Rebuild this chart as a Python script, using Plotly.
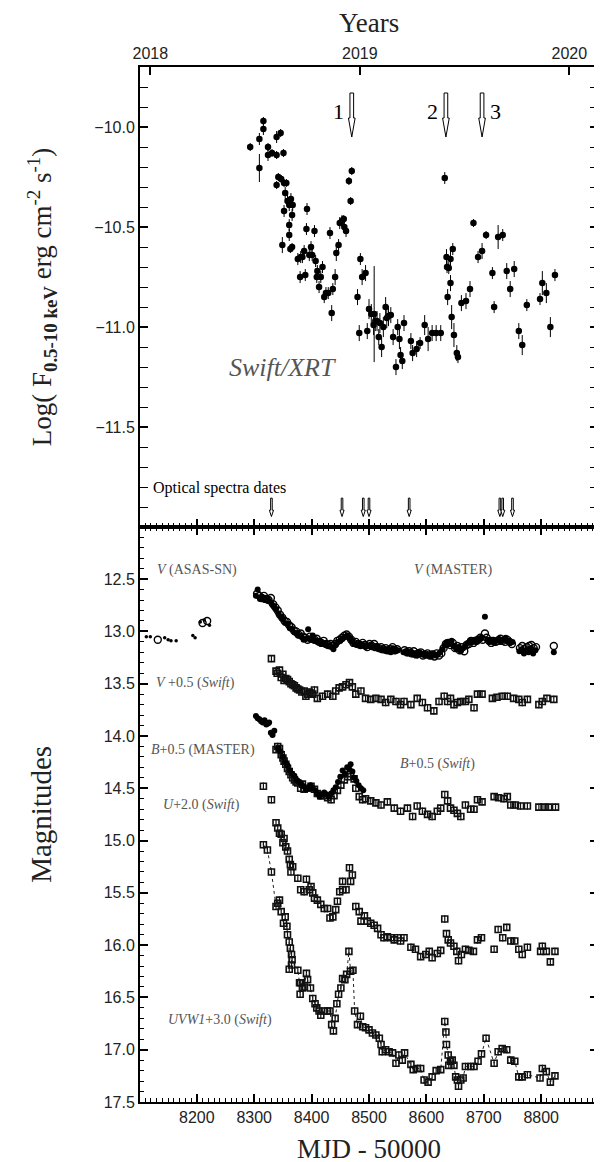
import plotly.graph_objects as go

# ---------------- TOP PANEL: Swift/XRT flux ----------------
xrt_mjd = [8293, 8309, 8309, 8316, 8316, 8324, 8324, 8331, 8339, 8339, 8339, 8342, 8346, 8347, 8349,
           8351, 8352, 8352, 8354, 8356, 8358, 8361, 8361, 8361, 8363, 8364, 8366, 8366, 8367, 8376,
           8380, 8381, 8384, 8387, 8389, 8391, 8392, 8396, 8399, 8401, 8405, 8407, 8409, 8410, 8413,
           8416, 8419, 8422, 8425, 8429, 8432, 8435, 8437, 8441, 8443, 8447, 8449, 8453, 8456, 8457,
           8460, 8465, 8468, 8470, 8480, 8483, 8485, 8488, 8494, 8497, 8500, 8504, 8508, 8509, 8511,
           8514, 8517, 8519, 8522, 8525, 8529, 8531, 8534, 8538, 8542, 8547, 8550, 8553, 8555, 8558,
           8561, 8573, 8576, 8583, 8589, 8597, 8603, 8610, 8617, 8625, 8632, 8635, 8636, 8637, 8639,
           8642, 8642, 8644, 8646, 8648, 8653, 8655, 8661, 8669, 8676, 8682, 8690, 8697, 8704, 8715,
           8718, 8725, 8733, 8740, 8746, 8753, 8761, 8767, 8775, 8798, 8802, 8809, 8816, 8824]
xrt_logf = [-10.10, -10.06, -10.205, -9.97, -10.01, -10.10, -10.14, -10.13, -10.05, -10.14, -10.29, -10.25,
            -10.03, -10.26, -10.59, -10.13, -10.28, -10.42, -10.33, -10.28, -10.37, -10.39, -10.49, -10.54,
            -10.61, -10.36, -10.44, -10.60, -10.39, -10.66, -10.75, -10.65, -10.65, -10.62, -10.74, -10.51,
            -10.41, -10.64, -10.60, -10.64, -10.52, -10.67, -10.75, -10.72, -10.80, -10.75, -10.70, -10.85,
            -10.83, -10.83, -10.53, -10.93, -10.81, -10.75, -10.63, -10.59, -10.48, -10.47, -10.46, -10.50,
            -10.52, -10.27, -10.37, -10.22, -10.85, -11.03, -10.66, -10.75, -10.73, -11.02, -10.91, -10.935,
            -10.99, -10.935, -10.97, -10.97, -11.05, -10.98, -11.10, -11.00, -10.90, -10.955, -10.945, -10.94,
            -11.05, -11.20, -11.00, -11.06, -11.14, -11.17, -10.98, -11.07, -11.13, -11.11, -11.08, -10.99,
            -11.06, -11.03, -11.03, -11.03, -10.255, -10.65, -10.70, -10.85, -10.705, -10.66, -10.78, -10.95,
            -10.61, -11.04, -11.13, -11.15, -10.88, -10.87, -10.81, -10.48, -10.65, -10.62, -10.54, -10.73,
            -10.90, -10.55, -10.54, -10.72, -10.81, -10.71, -11.02, -11.09, -10.89, -10.86, -10.78, -10.83,
            -11.00, -10.74]
xrt_err = [0.02, 0.03, 0.07, 0.02, 0.03, 0.02, 0.03, 0.02, 0.03, 0.02, 0.02, 0.02, 0.02, 0.02, 0.04,
           0.02, 0.02, 0.03, 0.03, 0.02, 0.03, 0.03, 0.03, 0.03, 0.02, 0.03, 0.03, 0.02, 0.03, 0.03,
           0.03, 0.03, 0.03, 0.03, 0.03, 0.03, 0.03, 0.03, 0.03, 0.03, 0.03, 0.03, 0.03, 0.03, 0.03,
           0.03, 0.03, 0.03, 0.03, 0.03, 0.03, 0.04, 0.03, 0.04, 0.04, 0.03, 0.03, 0.03, 0.02, 0.03,
           0.03, 0.02, 0.02, 0.02, 0.04, 0.04, 0.03, 0.04, 0.04, 0.04, 0.05, 0.05, 0.05, 0.24, 0.05,
           0.05, 0.04, 0.05, 0.05, 0.05, 0.05, 0.05, 0.05, 0.04, 0.04, 0.04, 0.04, 0.05, 0.04, 0.04,
           0.04, 0.04, 0.04, 0.04, 0.03, 0.05, 0.06, 0.04, 0.04, 0.04, 0.03, 0.04, 0.03, 0.04, 0.03,
           0.04, 0.04, 0.06, 0.03, 0.06, 0.04, 0.03, 0.04, 0.04, 0.04, 0.02, 0.03, 0.04, 0.02, 0.03,
           0.03, 0.06, 0.03, 0.04, 0.04, 0.04, 0.04, 0.05, 0.03, 0.03, 0.06, 0.05, 0.05, 0.03]

xray_arrow_mjd = [8470, 8634, 8697]
xray_arrow_labels = ["1", "2", "3"]
xray_label_side = ["left", "left", "right"]
spectra_mjd = [8330, 8453, 8490, 8500, 8570, 8728, 8733, 8750]

year_mjd = [8119, 8484, 8849]
year_labels = ["2018", "2019", "2020"]

# ---------------- BOTTOM PANEL: optical/UV magnitudes ----------------
v_asas_early_mjd = [8112, 8119, 8144, 8150, 8155, 8164, 8193, 8197, 8206, 8213, 8222]
v_asas_early_mag = [13.05, 13.05, 13.06, 13.08, 13.09, 13.09, 13.04, 13.06, 12.91, 12.89, 12.94]
v_asas_mjd = [8132, 8210, 8218,
              8305, 8309, 8313, 8317, 8321, 8325, 8329, 8333, 8337, 8341, 8345, 8349, 8353, 8357, 8361, 8365,
              8369, 8373, 8377, 8381, 8385, 8389, 8393, 8397, 8401, 8405, 8409, 8413, 8417, 8421, 8425, 8429,
              8433, 8437, 8441, 8445, 8449, 8453, 8457, 8461, 8465, 8469, 8473, 8477, 8481, 8485, 8489, 8493,
              8497, 8501, 8505, 8509, 8513, 8517, 8521, 8525, 8529, 8533, 8537, 8541, 8545, 8549, 8562, 8566,
              8570, 8574, 8578, 8582, 8586, 8590, 8594, 8598, 8602, 8606, 8610, 8614, 8618, 8622, 8626, 8630,
              8634, 8638, 8642, 8646, 8650, 8654, 8658, 8662, 8666, 8670, 8674, 8678, 8682, 8686, 8690, 8694,
              8698, 8702, 8705, 8709, 8713, 8717, 8721, 8725, 8729, 8733, 8737, 8741, 8745, 8749, 8763, 8767,
              8771, 8775, 8779, 8783, 8787, 8791, 8822]
v_asas_mag = [13.08, 12.92, 12.90,
              12.64, 12.66, 12.68, 12.66, 12.69, 12.70, 12.68, 12.74, 12.77, 12.80, 12.84, 12.87, 12.90, 12.91,
              12.94, 12.96, 12.99, 13.00, 13.03, 13.02, 13.05, 13.06, 13.08, 13.05, 13.07, 13.08, 13.07, 13.10,
              13.11, 13.09, 13.12, 13.13, 13.12, 13.14, 13.12, 13.09, 13.08, 13.06, 13.04, 13.03, 13.05, 13.08,
              13.11, 13.10, 13.12, 13.13, 13.11, 13.13, 13.15, 13.12, 13.14, 13.12, 13.15, 13.16, 13.15, 13.17,
              13.16, 13.18, 13.17, 13.15, 13.18, 13.17, 13.18, 13.20, 13.19, 13.21, 13.19, 13.22, 13.21, 13.20,
              13.23, 13.22, 13.21, 13.23, 13.22, 13.24, 13.21, 13.23, 13.21, 13.16, 13.12, 13.11, 13.13, 13.11,
              13.16, 13.14, 13.18, 13.15, 13.19, 13.13, 13.12, 13.09, 13.11, 13.09, 13.08, 13.06, 13.08, 13.02,
              13.06, 13.09, 13.11, 13.09, 13.10, 13.09, 13.07, 13.09, 13.10, 13.08, 13.10, 13.12, 13.16, 13.14,
              13.17, 13.15, 13.14, 13.13, 13.16, 13.15, 13.14]
v_master_mjd = [8303, 8306, 8310, 8314, 8318, 8322, 8326, 8330, 8334, 8338, 8342, 8346, 8350, 8354, 8358, 8362,
                8366, 8370, 8374, 8378, 8382, 8386, 8390, 8394, 8398, 8402, 8406, 8410, 8414, 8418, 8422, 8426,
                8430, 8434, 8438, 8442, 8446, 8450, 8454, 8458, 8462, 8466, 8470, 8474, 8478, 8482, 8486, 8490,
                8494, 8498, 8502, 8506, 8510, 8514, 8518, 8522, 8526, 8530, 8534, 8538, 8542, 8546, 8550, 8560,
                8564, 8568, 8572, 8576, 8580, 8584, 8588, 8592, 8596, 8600, 8604, 8608, 8612, 8616, 8620, 8624,
                8628, 8632, 8636, 8640, 8644, 8648, 8652, 8656, 8660, 8664, 8668, 8672, 8676, 8680, 8684, 8688,
                8692, 8696, 8702, 8706, 8710, 8714, 8718, 8722, 8726, 8730, 8734, 8738, 8742, 8746, 8750, 8762,
                8766, 8770, 8774, 8778, 8782, 8786, 8790, 8822]
v_master_mag = [12.66, 12.60, 12.69, 12.67, 12.70, 12.68, 12.71, 12.73, 12.76, 12.79, 12.83, 12.86, 12.88, 12.92,
                12.93, 12.97, 12.98, 13.01, 13.02, 13.04, 13.05, 13.08, 13.07, 12.98, 13.08, 13.04, 13.09, 13.10,
                13.09, 13.12, 13.11, 13.13, 13.14, 13.15, 13.17, 13.13, 13.10, 13.09, 13.07, 13.05, 13.04, 13.06,
                13.09, 13.12, 13.13, 13.12, 13.14, 13.13, 13.15, 13.14, 13.13, 13.15, 13.16, 13.14, 13.17, 13.18,
                13.17, 13.19, 13.18, 13.20, 13.16, 13.19, 13.18, 13.20, 13.19, 13.21, 13.20, 13.22, 13.21, 13.23,
                13.20, 13.22, 13.21, 13.23, 13.22, 13.24, 13.21, 13.23, 13.22, 13.20, 13.17, 13.13, 13.10, 13.12,
                13.09, 13.14, 13.17, 13.15, 13.19, 13.16, 13.14, 13.11, 13.09, 13.10, 13.08, 13.10, 13.07, 13.06,
                12.86, 13.08, 13.10, 13.08, 13.11, 13.09, 13.07, 13.10, 13.08, 13.06, 13.09, 13.11, 13.10, 13.19,
                13.17, 13.21, 13.18, 13.20, 13.16, 13.21, 13.18, 13.20]

v_swift_mjd = [8330, 8338, 8340, 8344, 8347, 8350, 8352, 8355, 8358, 8361, 8364, 8367, 8370, 8373, 8376, 8379,
               8383, 8387, 8390, 8393, 8396, 8399, 8402, 8405, 8410, 8419, 8428, 8437, 8442, 8448, 8454, 8460,
               8466, 8471, 8477, 8486, 8494, 8503, 8512, 8521, 8529, 8538, 8547, 8555, 8561, 8573, 8584, 8593,
               8602, 8613, 8622, 8631, 8637, 8642, 8648, 8654, 8660, 8668, 8674, 8683, 8689, 8697, 8715, 8723,
               8732, 8741, 8752, 8761, 8767, 8776, 8796, 8802, 8810, 8822]
v_swift_mag = [13.26, 13.38, 13.40, 13.37, 13.44, 13.41, 13.47, 13.45, 13.46, 13.48, 13.50, 13.51, 13.52, 13.54,
               13.55, 13.56, 13.58, 13.57, 13.62, 13.60, 13.58, 13.59, 13.60, 13.56, 13.64, 13.62, 13.60, 13.62,
               13.57, 13.54, 13.53, 13.51, 13.49, 13.53, 13.60, 13.57, 13.64, 13.65, 13.64, 13.65, 13.68, 13.65,
               13.67, 13.70, 13.67, 13.70, 13.64, 13.68, 13.73, 13.76, 13.67, 13.62, 13.67, 13.64, 13.70, 13.68,
               13.67, 13.67, 13.65, 13.73, 13.60, 13.60, 13.64, 13.63, 13.62, 13.62, 13.64, 13.65, 13.68, 13.65,
               13.70, 13.67, 13.64, 13.65]

b_master_mjd = [8303, 8306, 8309, 8312, 8315, 8318, 8321, 8324, 8326, 8329, 8332, 8335, 8342, 8346, 8350, 8354,
                8358, 8362, 8366, 8370, 8374, 8378, 8382, 8386, 8390, 8394, 8398, 8402, 8406, 8410, 8414, 8418,
                8422, 8426, 8430, 8434, 8438, 8442, 8446, 8450, 8454, 8458, 8462, 8466, 8468, 8471, 8474, 8478,
                8482, 8486, 8490]
b_master_mag = [13.81, 13.83, 13.84, 13.86, 13.87, 13.85, 13.89, 13.88, 13.87, 13.97, 13.99, 13.95, 14.12, 14.15,
                14.20, 14.25, 14.28, 14.33, 14.36, 14.38, 14.42, 14.44, 14.46, 14.48, 14.51, 14.50, 14.47, 14.50,
                14.52, 14.55, 14.58, 14.56, 14.54, 14.56, 14.58, 14.55, 14.52, 14.49, 14.44, 14.39, 14.33, 14.36,
                14.30, 14.32, 14.27, 14.34, 14.40, 14.43, 14.47, 14.50, 14.52]

b_swift_mjd = [8338, 8341, 8344, 8347, 8350, 8352, 8355, 8358, 8361, 8364, 8367, 8370, 8373, 8376, 8381, 8384,
               8387, 8393, 8399, 8405, 8410, 8416, 8422, 8428, 8434, 8439, 8445, 8451, 8457, 8463, 8468, 8474,
               8477, 8483, 8489, 8494, 8503, 8512, 8521, 8532, 8544, 8555, 8567, 8576, 8584, 8593, 8602, 8610,
               8619, 8625, 8632, 8637, 8642, 8648, 8654, 8660, 8668, 8677, 8683, 8689, 8697, 8718, 8726, 8735,
               8741, 8747, 8755, 8764, 8776, 8796, 8805, 8813, 8825]
b_swift_mag = [14.13, 14.10, 14.12, 14.18, 14.21, 14.24, 14.27, 14.31, 14.34, 14.37, 14.40, 14.42, 14.44, 14.45,
               14.50, 14.46, 14.51, 14.50, 14.48, 14.51, 14.55, 14.57, 14.57, 14.59, 14.61, 14.57, 14.52, 14.47,
               14.42, 14.39, 14.36, 14.41, 14.50, 14.58, 14.61, 14.60, 14.62, 14.64, 14.66, 14.63, 14.69, 14.72,
               14.69, 14.77, 14.67, 14.72, 14.75, 14.77, 14.72, 14.69, 14.56, 14.62, 14.69, 14.71, 14.74, 14.77,
               14.66, 14.70, 14.70, 14.61, 14.63, 14.58, 14.59, 14.60, 14.58, 14.66, 14.66, 14.67, 14.67, 14.68,
               14.68, 14.68, 14.68]

u_swift_mjd = [8316, 8330, 8338, 8341, 8344, 8347, 8350, 8352, 8355, 8358, 8361, 8363, 8364, 8367, 8376, 8381,
               8387, 8391, 8396, 8399, 8402, 8405, 8410, 8416, 8422, 8428, 8432, 8437, 8442, 8445, 8449, 8454,
               8454, 8460, 8466, 8468, 8471, 8477, 8483, 8486, 8492, 8497, 8503, 8509, 8515, 8521, 8526, 8532,
               8538, 8544, 8550, 8555, 8561, 8573, 8581, 8590, 8599, 8605, 8610, 8619, 8625, 8632, 8635, 8638,
               8642, 8648, 8653, 8656, 8661, 8668, 8674, 8682, 8689, 8696, 8718, 8725, 8733, 8740, 8747, 8754,
               8761, 8767, 8776, 8799, 8802, 8809, 8816, 8824]
u_swift_mag = [14.48, 14.61, 14.83, 14.88, 14.93, 14.94, 15.02, 14.98, 15.06, 15.10, 15.18, 15.23, 15.30, 15.25,
               15.36, 15.47, 15.49, 15.37, 15.47, 15.44, 15.50, 15.55, 15.57, 15.61, 15.65, 15.65, 15.74, 15.73,
               15.66, 15.58, 15.49, 15.47, 15.39, 15.47, 15.26, 15.39, 15.33, 15.63, 15.68, 15.77, 15.72, 15.77,
               15.79, 15.81, 15.84, 15.90, 15.93, 15.92, 15.93, 15.95, 15.93, 15.96, 15.93, 16.02, 16.04, 16.11,
               16.09, 16.06, 16.12, 16.08, 16.05, 15.75, 15.89, 15.95, 15.98, 16.01, 16.06, 16.15, 16.09, 16.04,
               16.05, 16.06, 15.95, 15.93, 16.04, 15.85, 15.93, 15.83, 15.96, 15.96, 16.04, 16.09, 16.02, 16.06,
               16.01, 16.06, 16.16, 16.06]

uvw1_mjd = [8316, 8323, 8330, 8338, 8341, 8344, 8347, 8351, 8354, 8357, 8358, 8361, 8361, 8363, 8365, 8365,
            8366, 8376, 8379, 8380, 8381, 8384, 8387, 8391, 8393, 8398, 8402, 8406, 8409, 8413, 8416, 8422,
            8428, 8432, 8435, 8438, 8441, 8444, 8447, 8451, 8454, 8458, 8461, 8465, 8468, 8472, 8475, 8480,
            8485, 8489, 8494, 8500, 8506, 8512, 8518, 8521, 8523, 8529, 8535, 8541, 8547, 8552, 8558, 8562,
            8573, 8577, 8584, 8590, 8596, 8603, 8610, 8617, 8625, 8632, 8634, 8635, 8638, 8639, 8642, 8645,
            8648, 8651, 8654, 8656, 8660, 8664, 8668, 8677, 8683, 8690, 8696, 8704, 8718, 8725, 8732, 8740,
            8747, 8754, 8761, 8767, 8776, 8798, 8802, 8809, 8816, 8824]
uvw1_mag = [15.04, 15.09, 15.30, 15.63, 15.60, 15.57, 15.68, 15.79, 15.73, 15.82, 15.90, 15.97, 16.23, 16.03,
            16.09, 16.19, 16.14, 16.24, 16.36, 16.47, 16.36, 16.41, 16.40, 16.27, 16.33, 16.41, 16.51, 16.56,
            16.60, 16.63, 16.67, 16.63, 16.63, 16.63, 16.76, 16.82, 16.70, 16.56, 16.47, 16.41, 16.32, 16.33,
            16.28, 16.06, 16.25, 16.24, 16.63, 16.76, 16.68, 16.78, 16.79, 16.81, 16.84, 16.86, 16.89, 16.95,
            17.02, 17.00, 17.02, 17.03, 17.13, 17.05, 17.10, 17.03, 17.14, 17.19, 17.18, 17.18, 17.29, 17.31,
            17.26, 17.20, 17.19, 16.73, 16.83, 16.95, 17.05, 17.15, 17.11, 17.10, 17.15, 17.26, 17.29, 17.35,
            17.29, 17.27, 17.16, 17.16, 17.16, 17.11, 17.04, 16.89, 17.13, 17.02, 16.99, 17.00, 17.10, 17.11,
            17.26, 17.26, 17.24, 17.27, 17.18, 17.21, 17.31, 17.25]

SWIFT_ERR = 0.035

# ---------------- Styling constants ----------------
X_RANGE = [8101, 8899]
Y_TOP_RANGE = [-11.999, -9.7]
Y_BOT_RANGE = [17.5, 12.001]
SPLIT = 0.5556
SERIF = "Liberation Serif, Times New Roman, serif"
SANS = "Liberation Sans, Arial, sans-serif"
GREY = "#555555"

fig = go.Figure()

# Top panel X-ray fluxes
fig.add_trace(go.Scatter(x=xrt_mjd, y=xrt_logf, mode="markers", xaxis="x", yaxis="y",
                         marker=dict(color="black", size=6.5),
                         error_y=dict(type="data", array=xrt_err, color="black", thickness=1, width=0),
                         showlegend=False, hoverinfo="skip"))
# dummy for year axis
fig.add_trace(go.Scatter(x=year_mjd, y=[None] * len(year_mjd), xaxis="x3", yaxis="y",
                         mode="markers", showlegend=False, hoverinfo="skip"))

# Bottom panel
def sq_trace(x, y, lines=False):
    return go.Scatter(x=x, y=y, xaxis="x2", yaxis="y2",
                      mode="lines+markers" if lines else "markers",
                      line=dict(color="#222222", width=1, dash="dot"),
                      marker=dict(symbol="square-open", size=6, color="#111111", line=dict(width=1.6)),
                      error_y=dict(type="constant", value=SWIFT_ERR, color="#111111", thickness=1.2, width=0),
                      showlegend=False, hoverinfo="skip")

fig.add_trace(go.Scatter(x=v_asas_early_mjd, y=v_asas_early_mag, xaxis="x2", yaxis="y2", mode="markers",
                         marker=dict(color="black", size=3.5), showlegend=False, hoverinfo="skip"))
fig.add_trace(go.Scatter(x=v_master_mjd, y=v_master_mag, xaxis="x2", yaxis="y2", mode="markers",
                         marker=dict(color="black", size=6), showlegend=False, hoverinfo="skip"))
fig.add_trace(go.Scatter(x=v_asas_mjd, y=v_asas_mag, xaxis="x2", yaxis="y2", mode="markers",
                         marker=dict(symbol="circle-open", color="black", size=7, line=dict(width=1.4)),
                         showlegend=False, hoverinfo="skip"))
fig.add_trace(sq_trace(v_swift_mjd, v_swift_mag))
fig.add_trace(sq_trace(b_swift_mjd, b_swift_mag))
fig.add_trace(go.Scatter(x=b_master_mjd, y=b_master_mag, xaxis="x2", yaxis="y2", mode="markers",
                         marker=dict(color="black", size=6), showlegend=False, hoverinfo="skip"))
fig.add_trace(sq_trace(u_swift_mjd, u_swift_mag))
fig.add_trace(sq_trace(uvw1_mjd, uvw1_mag, lines=True))

# ---------------- Arrows (hollow) as shapes ----------------
shapes = []
def arrow_path(x, ytop, yneck, ytip, sw, hw):
    return (f"M {x - sw},{ytop} L {x + sw},{ytop} L {x + sw},{yneck} L {x + hw},{yneck} "
            f"L {x},{ytip} L {x - hw},{yneck} L {x - sw},{yneck} Z")

for xm in xray_arrow_mjd:
    shapes.append(dict(type="path", xref="x", yref="y",
                       path=arrow_path(xm, -9.83, -9.955, -10.05, 3.2, 5.8),
                       line=dict(color="black", width=1), fillcolor="white", layer="above"))
for xm in spectra_mjd:
    shapes.append(dict(type="path", xref="x", yref="y",
                       path=arrow_path(xm, -11.855, -11.915, -11.947, 1.4, 3.6),
                       line=dict(color="black", width=1), fillcolor="white", layer="above"))

annotations = []
for xm, lab, side in zip(xray_arrow_mjd, xray_arrow_labels, xray_label_side):
    annotations.append(dict(x=xm, y=-9.92, xref="x", yref="y", text=lab, showarrow=False,
                            xanchor="right" if side == "left" else "left", yanchor="middle",
                            xshift=-6 if side == "left" else 6,
                            font=dict(family=SERIF, size=22, color="black")))

annotations.append(dict(x=8120, y=-11.805, xref="x", yref="y", text="Optical spectra dates",
                        showarrow=False, xanchor="left", yanchor="middle",
                        font=dict(family=SERIF, size=16, color="black")))
annotations.append(dict(x=8350, y=-11.2, xref="x", yref="y", text="<i>Swift/XRT</i>",
                        showarrow=False, xanchor="center", yanchor="middle",
                        font=dict(family=SERIF, size=26, color=GREY)))

band_labels = [
    (8200, 12.41, "<i>V</i> (ASAS-SN)"),
    (8647, 12.41, "<i>V</i> (MASTER)"),
    (8197, 13.49, "<i>V</i> +0.5 (<i>Swift</i>)"),
    (8211, 14.13, "<i>B</i>+0.5 (MASTER)"),
    (8620, 14.27, "<i>B</i>+0.5 (<i>Swift</i>)"),
    (8209, 14.66, "<i>U</i>+2.0 (<i>Swift</i>)"),
    (8240, 16.72, "<i>UVW1</i>+3.0 (<i>Swift</i>)"),
]
for bx, by, bt in band_labels:
    annotations.append(dict(x=bx, y=by, xref="x2", yref="y2", text=bt, showarrow=False,
                            xanchor="center", yanchor="middle",
                            font=dict(family=SERIF, size=14, color=GREY)))

# axis titles
annotations += [
    dict(x=0.5, y=1.0425, xref="paper", yref="paper", text="Years", showarrow=False,
         xanchor="center", yanchor="middle", font=dict(family=SERIF, size=27, color="#222")),
    dict(x=0.5, y=-0.0454, xref="paper", yref="paper", text="MJD - 50000", showarrow=False,
         xanchor="center", yanchor="middle", font=dict(family=SERIF, size=27, color="#222")),
    dict(x=-0.215, y=0.778, xref="paper", yref="paper",
         text="Log( F<sub><b>0.5-10 keV</b></sub> erg cm<sup>-2</sup> s<sup>-1</sup>)",
         textangle=-90, showarrow=False, xanchor="center", yanchor="middle",
         font=dict(family=SERIF, size=27, color="#222")),
    dict(x=-0.215, y=0.278, xref="paper", yref="paper", text="Magnitudes",
         textangle=-90, showarrow=False, xanchor="center", yanchor="middle",
         font=dict(family=SERIF, size=29, color="#222")),
]

common_x = dict(range=X_RANGE, showgrid=False, zeroline=False, showline=True, linecolor="black",
                linewidth=2, ticks="inside", ticklen=8, tickwidth=1.5, tickcolor="black",
                dtick=100, tick0=0,
                minor=dict(ticks="inside", dtick=10, tick0=0, ticklen=4, tickcolor="black", tickwidth=1),
                tickfont=dict(family=SANS, size=16, color="#222"))
common_y = dict(showgrid=False, zeroline=False, showline=True, linecolor="black", linewidth=2,
                ticks="inside", ticklen=8, tickwidth=1.5, tickcolor="black", mirror="allticks",
                tickfont=dict(family=SANS, size=16, color="#222"), tickformat=".1f")

fig.update_layout(
    width=602, height=1162,
    margin=dict(l=132, r=10, t=59, b=68),
    paper_bgcolor="white", plot_bgcolor="white",
    xaxis=dict(**common_x, domain=[0, 1], anchor="y", showticklabels=False),
    xaxis2=dict(**common_x, domain=[0, 1], anchor="y2", mirror="allticks", showticklabels=True),
    xaxis3=dict(range=X_RANGE, overlaying="x", side="top", anchor="y", showgrid=False, zeroline=False,
                showline=True, linecolor="black", linewidth=2, tickmode="array", tickvals=year_mjd,
                ticktext=year_labels, ticks="inside", ticklen=8, tickwidth=1.5, tickcolor="black",
                tickfont=dict(family=SANS, size=16, color="#222")),
    yaxis=dict(**common_y, domain=[SPLIT, 1], anchor="x", range=Y_TOP_RANGE, dtick=0.5, tick0=0,
               minor=dict(ticks="inside", dtick=0.1, tick0=0, ticklen=4, tickcolor="black", tickwidth=1)),
    yaxis2=dict(**common_y, domain=[0, SPLIT], anchor="x2", range=Y_BOT_RANGE, dtick=0.5, tick0=0,
                minor=dict(ticks="inside", dtick=0.1, tick0=0, ticklen=4, tickcolor="black", tickwidth=1)),
    shapes=shapes,
    annotations=annotations,
)

fig.write_html("out.html")
